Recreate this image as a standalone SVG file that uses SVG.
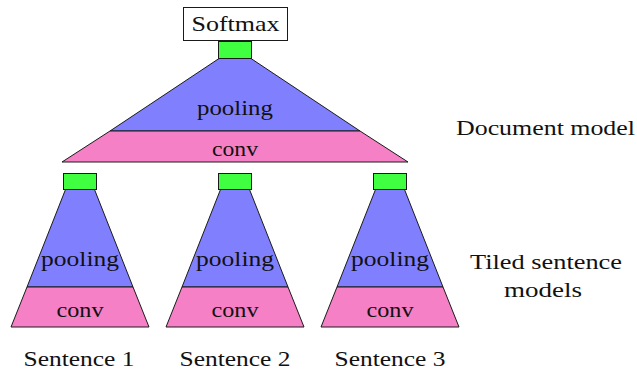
<svg xmlns="http://www.w3.org/2000/svg" width="637" height="372" viewBox="0 0 637 372">
<style>
.pool{fill:#8080ff;stroke:#1a1a1a;stroke-width:1;stroke-linejoin:round}
.conv{fill:#f580c5;stroke:#1a1a1a;stroke-width:1;stroke-linejoin:round}
.out{fill:#40ff40;stroke:#1a1a1a;stroke-width:1}
.box{fill:#fff;stroke:#1a1a1a;stroke-width:1}
</style>
<rect width="637" height="372" fill="#fff"/>
<g font-family="Liberation Serif, Times New Roman, Tinos, Noto Serif, DejaVu Serif, serif" font-size="22" fill="#111" text-anchor="middle">
<g id="softmax">
<rect class="box" x="183.5" y="7.5" width="104" height="33"/>
<text x="235.5" y="31" textLength="88" lengthAdjust="spacingAndGlyphs">Softmax</text>
</g>
<g id="document-model">
<rect class="out" x="218.5" y="41.5" width="33" height="17"/>
<polygon class="pool" points="219,58.5 251,58.5 360,131 110,131"/>
<polygon class="conv" points="110,131 360,131 408,162 62,162"/>
<text x="235" y="115" textLength="76" lengthAdjust="spacingAndGlyphs">pooling</text>
<text x="235" y="156" textLength="46" lengthAdjust="spacingAndGlyphs">conv</text>
</g>
<g id="sentence-model-1">
<rect class="out" x="63.5" y="173.5" width="33" height="16"/>
<polygon class="pool" points="65.5,189.5 94.5,189.5 133,287 27,287"/>
<polygon class="conv" points="27,287 133,287 149,327 11,327"/>
<text x="80" y="266" textLength="78" lengthAdjust="spacingAndGlyphs">pooling</text>
<text x="80" y="317" textLength="47" lengthAdjust="spacingAndGlyphs">conv</text>
</g>
<g id="sentence-model-2">
<rect class="out" x="218.5" y="173.5" width="33" height="16"/>
<polygon class="pool" points="220.5,189.5 249.5,189.5 288,287 182,287"/>
<polygon class="conv" points="182,287 288,287 304,327 166,327"/>
<text x="235" y="266" textLength="78" lengthAdjust="spacingAndGlyphs">pooling</text>
<text x="235" y="317" textLength="47" lengthAdjust="spacingAndGlyphs">conv</text>
</g>
<g id="sentence-model-3">
<rect class="out" x="373.5" y="173.5" width="33" height="16"/>
<polygon class="pool" points="375.5,189.5 404.5,189.5 443,287 337,287"/>
<polygon class="conv" points="337,287 443,287 459,327 321,327"/>
<text x="390" y="266" textLength="78" lengthAdjust="spacingAndGlyphs">pooling</text>
<text x="390" y="317" textLength="47" lengthAdjust="spacingAndGlyphs">conv</text>
</g>
<g id="labels">
<text x="79" y="366" textLength="111" lengthAdjust="spacingAndGlyphs">Sentence 1</text>
<text x="235" y="366" textLength="111" lengthAdjust="spacingAndGlyphs">Sentence 2</text>
<text x="390" y="366" textLength="111" lengthAdjust="spacingAndGlyphs">Sentence 3</text>
<text x="545.5" y="135" textLength="179" lengthAdjust="spacingAndGlyphs">Document model</text>
<text x="546" y="269" textLength="152" lengthAdjust="spacingAndGlyphs">Tiled sentence</text>
<text x="543" y="297" textLength="78" lengthAdjust="spacingAndGlyphs">models</text>
</g>
</g>
</svg>
